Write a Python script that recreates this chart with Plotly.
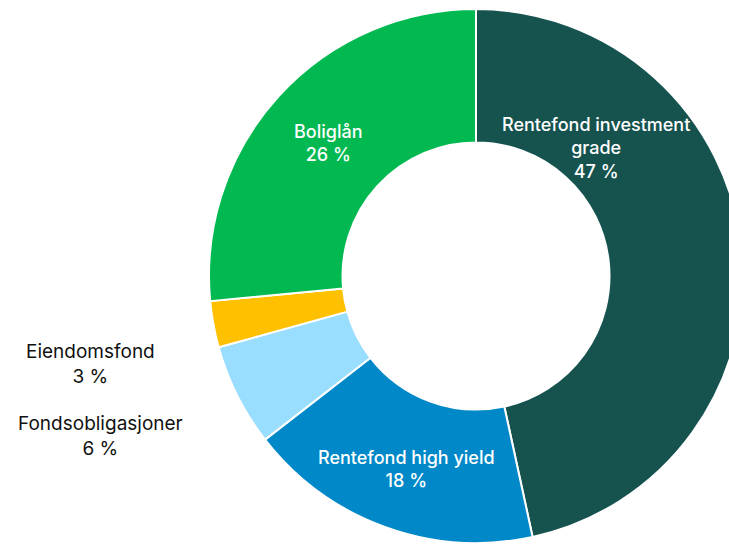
import plotly.graph_objects as go

labels = ["Rentefond investment grade", "Rentefond high yield", "Fondsobligasjoner", "Eiendomsfond", "Boliglån"]
values = [46.6, 17.9, 6.2, 2.8, 26.5]
colors = ["#16534F", "#0088C8", "#99DEFF", "#FFC000", "#02B951"]

W, H = 760, 545
FONT = "Inter"

fig = go.Figure(go.Pie(
    labels=labels,
    values=values,
    marker=dict(colors=colors, line=dict(color="white", width=2)),
    hole=0.5,
    sort=False,
    direction="clockwise",
    rotation=0,
    textinfo="none",
    textposition="none",
    showlegend=False,
    hoverinfo="label+percent",
    domain=dict(x=[209 / W, 743 / W], y=[2 / H, 536 / H]),
))

wrap = {"Rentefond investment grade": "Rentefond investment<br>grade"}
# label placement (pixel centers) and style
place = {
    "Rentefond investment grade": (596, 148, "white", 500, 18),
    "Rentefond high yield": (406, 469, "white", 500, 18),
    "Fondsobligasjoner": (100, 436, "#111111", 400, 19),
    "Eiendomsfond": (90, 364, "#111111", 400, 19),
    "Boliglån": (328, 143, "white", 500, 18),
}
for lab, val in zip(labels, values):
    px, py, col, wt, sz = place[lab]
    fig.add_annotation(
        x=px / W, y=1 - py / H, xref="paper", yref="paper",
        xanchor="center", yanchor="middle", showarrow=False,
        text=f"{wrap.get(lab, lab)}<br>{round(val)} %",
        font=dict(family=FONT, size=sz, color=col, weight=wt),
        align="center",
    )

fig.update_layout(
    width=W, height=H,
    margin=dict(l=0, r=0, t=0, b=0),
    paper_bgcolor="white", plot_bgcolor="white",
)

fig.write_html("out.html", config={"displayModeBar": False},
               post_script="document.body.style.margin='0';document.body.style.overflow='hidden';")
